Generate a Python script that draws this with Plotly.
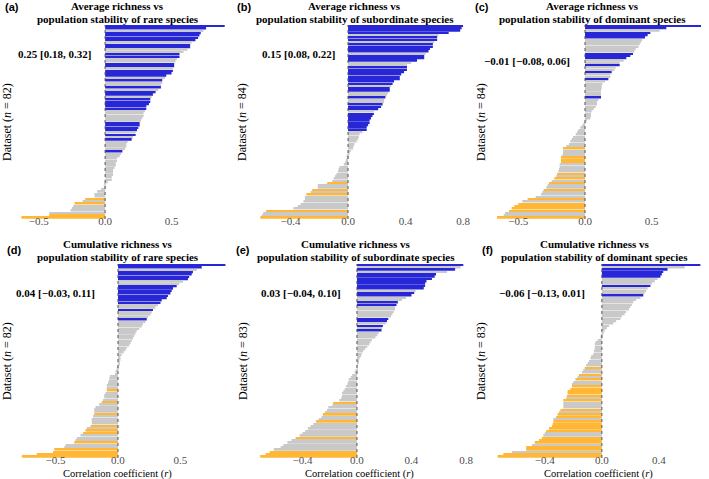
import plotly.graph_objects as go

# ---------------- data ----------------
# sig codes: B = significant positive, G = not significant, O = significant negative
a_vals = [0.90, 0.76, 0.74, 0.72, 0.71, 0.70, 0.68, 0.65, 0.64, 0.64,
          0.62, 0.59, 0.56, 0.56, 0.54, 0.53, 0.52, 0.52, 0.51, 0.51,
          0.50, 0.46, 0.45, 0.43, 0.43, 0.42, 0.42, 0.40, 0.38, 0.36,
          0.35, 0.34, 0.34, 0.33, 0.31, 0.31, 0.30, 0.29, 0.29, 0.28,
          0.27, 0.26, 0.26, 0.25, 0.24, 0.23, 0.23, 0.21, 0.20, 0.17,
          0.16, 0.16, 0.15, 0.13, 0.12, 0.11, 0.09, 0.09, 0.08, 0.08,
          0.07, 0.06, 0.06, 0.06, 0.05, 0.05, 0.02, -0.005, -0.01, -0.03,
          -0.06, -0.08, -0.08, -0.15, -0.17, -0.23, -0.24, -0.25, -0.26, -0.42,
          -0.42, -0.63]
a_sig = ("BBGBBBBGBB" "GGBBGGBBGB" "BBGBGGBGBB" "GBBBBBGGGG" "GBBBBGBGBG"
         "GGGBGGGGGG" "GGGGGGGGGG" "GGGOGOGGGG" "OO")

b_vals = [0.80, 0.79, 0.78, 0.70, 0.63, 0.62, 0.62, 0.60, 0.59, 0.59,
          0.57, 0.56, 0.54, 0.53, 0.53, 0.48, 0.44, 0.41, 0.41, 0.41,
          0.39, 0.37, 0.36, 0.36, 0.32, 0.31, 0.30, 0.29, 0.29, 0.28,
          0.27, 0.26, 0.25, 0.25, 0.24, 0.23, 0.21, 0.18, 0.18, 0.17,
          0.16, 0.15, 0.15, 0.14, 0.13, 0.13, 0.10, 0.08, 0.075, 0.07,
          0.06, 0.045, 0.04, 0.035, 0.02, 0.01, -0.005, -0.01, -0.015, -0.02,
          -0.03, -0.06, -0.065, -0.07, -0.08, -0.09, -0.10, -0.11, -0.145, -0.21,
          -0.21, -0.25, -0.26, -0.29, -0.30, -0.30, -0.31, -0.33, -0.35, -0.38,
          -0.57, -0.59, -0.60, -0.61]
b_sig = ("BBBBGBBGBB" "BBGBBBGGBB" "BBBBBBGBBG" "GBGGBBBGBB" "BBBBBBGGGG"
         "GGGGGGGGGG" "GGGGGGGGOG" "GOGOGGGGGG" "OGGO")

c_vals = [0.87, 0.61, 0.56, 0.49, 0.47, 0.45, 0.43, 0.42, 0.41, 0.40,
          0.38, 0.37, 0.36, 0.34, 0.31, 0.29, 0.26, 0.26, 0.23, 0.22,
          0.20, 0.19, 0.19, 0.175, 0.15, 0.13, 0.125, 0.125, 0.12, 0.12,
          0.12, 0.12, 0.10, 0.09, 0.09, 0.08, 0.065, 0.05, 0.045, 0.045,
          0.04, 0.007, -0.01, -0.02, -0.035, -0.05, -0.06, -0.07, -0.09, -0.10,
          -0.11, -0.12, -0.14, -0.165, -0.165, -0.165, -0.17, -0.18, -0.18, -0.18,
          -0.19, -0.19, -0.195, -0.20, -0.21, -0.215, -0.23, -0.25, -0.27, -0.28,
          -0.29, -0.31, -0.32, -0.33, -0.37, -0.43, -0.47, -0.50, -0.53, -0.55,
          -0.57, -0.60, -0.61, -0.66]
c_sig = ("BBGBBBGGGG" "GGBBBGGBGG" "BGGBGGGGGG" "GBGGGGGGGG" "GGGGGGGGGG"
         "GGGOGGGOOO" "GGGGOGOGOG" "GOGGGOGOOO" "OGGO")

d_vals = [0.86, 0.67, 0.63, 0.60, 0.59, 0.57, 0.56, 0.52, 0.49, 0.47,
          0.44, 0.43, 0.42, 0.40, 0.39, 0.35, 0.34, 0.32, 0.30, 0.28,
          0.27, 0.26, 0.24, 0.23, 0.22, 0.20, 0.19, 0.17, 0.15, 0.14,
          0.13, 0.12, 0.11, 0.10, 0.09, 0.07, 0.06, 0.045, 0.03, 0.02,
          0.02, 0.015, 0.01, -0.005, -0.01, -0.02, -0.025, -0.065, -0.07, -0.075,
          -0.08, -0.09, -0.09, -0.09, -0.10, -0.11, -0.11, -0.12, -0.13, -0.15,
          -0.18, -0.19, -0.19, -0.19, -0.20, -0.21, -0.21, -0.21, -0.22, -0.25,
          -0.26, -0.28, -0.30, -0.33, -0.34, -0.35, -0.42, -0.43, -0.51, -0.52,
          -0.65, -0.77]
d_sig = ("BBGBBBBGGB" "BBBBBBBGGB" "GGGBGGGGGG" "GGGGGGGGGG" "GGGGGGGGGG"
         "GGGOGGGGOG" "GGGOGGGGOG" "OOGGGOGGOO" "OO")

e_vals = [0.78, 0.76, 0.72, 0.66, 0.58, 0.57, 0.55, 0.51, 0.50, 0.50,
          0.49, 0.43, 0.42, 0.40, 0.36, 0.33, 0.30, 0.29, 0.28, 0.28,
          0.27, 0.26, 0.25, 0.23, 0.22, 0.21, 0.19, 0.185, 0.18, 0.16,
          0.15, 0.135, 0.11, 0.10, 0.09, 0.075, 0.06, 0.045, 0.035, 0.03,
          0.02, 0.015, 0.012, 0.005, 0.002, -0.01, -0.017, -0.035, -0.045, -0.06,
          -0.065, -0.07, -0.08, -0.09, -0.10, -0.11, -0.11, -0.115, -0.13, -0.175,
          -0.18, -0.21, -0.22, -0.235, -0.25, -0.26, -0.28, -0.30, -0.32, -0.34,
          -0.36, -0.38, -0.40, -0.42, -0.45, -0.48, -0.51, -0.54, -0.56, -0.61,
          -0.64, -0.67, -0.71]
e_sig = ("BGBGBBBBBB" "BGBBGGBBGG" "GGGBBGBGBG" "GGGGGGGGGG" "GGGGGGGGGG"
         "GGGGGGGGGO" "GGGGOGGOGG" "GGGGOGGGGG" "OOO")

f_vals = [0.69, 0.58, 0.46, 0.43, 0.42, 0.41, 0.39, 0.37, 0.35, 0.34,
          0.32, 0.31, 0.30, 0.29, 0.27, 0.24, 0.22, 0.21, 0.20, 0.19,
          0.17, 0.16, 0.14, 0.13, 0.10, 0.08, 0.05, 0.035, 0.02, 0.01,
          -0.005, -0.01, -0.03, -0.045, -0.05, -0.05, -0.05, -0.055, -0.06, -0.075,
          -0.08, -0.09, -0.10, -0.11, -0.12, -0.13, -0.14, -0.16, -0.17, -0.185,
          -0.20, -0.21, -0.21, -0.22, -0.24, -0.24, -0.245, -0.25, -0.27, -0.27,
          -0.27, -0.27, -0.29, -0.30, -0.31, -0.32, -0.34, -0.34, -0.345, -0.35,
          -0.37, -0.39, -0.40, -0.41, -0.42, -0.44, -0.47, -0.49, -0.53, -0.53,
          -0.63, -0.69, -0.73]
f_sig = ("BGBBBBGGGB" "GGGBGGGGGG" "GGGGGGGGGG" "GGGGGGGGGG" "GGGGOGGOGO"
         "GGOOOOOGOG" "GGOGOOGOOO" "OOGGOOOGOO" "GOO")

letters = ["(a)", "(b)", "(c)", "(d)", "(e)", "(f)"]
title_line1 = ["Average richness vs"] * 3 + ["Cumulative richness vs"] * 3
title_line2 = ["population stability of rare species",
               "population stability of subordinate species",
               "population stability of dominant species"] * 2
summaries = ["0.25 [0.18, 0.32]", "0.15 [0.08, 0.22]", "\u22120.01 [\u22120.08, 0.06]",
             "0.04 [\u22120.03, 0.11]", "0.03 [\u22120.04, 0.10]", "\u22120.06 [\u22120.13, 0.01]"]
tick_sets = [[-0.5, 0.0, 0.5], [-0.4, 0.0, 0.4, 0.8], [-0.5, 0.0, 0.5],
             [-0.5, 0.0, 0.5], [-0.4, 0.0, 0.4, 0.8], [-0.4, 0.0, 0.4]]
all_vals = [a_vals, b_vals, c_vals, d_vals, e_vals, f_vals]
all_sigs = [a_sig, b_sig, c_sig, d_sig, e_sig, f_sig]

# ---------------- styling / geometry ----------------
W, H = 709, 479
SERIF = "Liberation Serif"
SANS = "Liberation Sans"
COLORS = {"B": "#2727d8", "G": "#c9c9c9", "O": "#ffb735"}

# per panel: left px, right px, zero px, px per unit, top px, bottom px
geo = [(20, 229, 106, 134, 25, 219), (258, 470, 351, 145, 25, 219), (499, 708, 590, 134.5, 25, 219),
       (20, 229, 119, 126, 264, 458), (258, 471, 360, 137.5, 264, 458), (499, 708, 607, 144, 264, 458)]
title_cx = [119, 358, 598, 119, 359, 600]
title_y = [(6, 18.5), (6, 18.5), (6, 18.5), (243.5, 256.5), (243.5, 256.5), (243.5, 256.5)]
summary_pos = [(94, 54), (340, 54), (577, 61), (98, 293), (346, 293), (592, 293)]
letter_pos = [(3, 7), (237, 7), (477, 7), (5, 250), (236, 250), (484, 250)]
ytitle_x = [7, 244, 485, 7, 245, 485]
xtitle_cx = [None, None, None, 118, 363, 604]

fig = go.Figure()
layout = dict(width=W, height=H, margin=dict(l=0, r=0, t=0, b=0),
              paper_bgcolor="white", plot_bgcolor="white", bargap=0.25,
              showlegend=False, annotations=[], shapes=[])


def px(x):
    return x / W


def py(y):
    return 1 - y / H


for k in range(6):
    vals, sig = all_vals[k], all_sigs[k]
    n = len(vals)
    sfx = "" if k == 0 else str(k + 1)
    L, R, x0, s, top, bot = geo[k]
    fig.add_trace(go.Bar(x=vals, y=list(range(n)), orientation="h",
                         marker=dict(color=[COLORS[c] for c in sig], line=dict(width=0)),
                         xaxis="x" + sfx, yaxis="y" + sfx, hoverinfo="x"))
    layout["xaxis" + sfx] = dict(domain=[px(L), px(R)], range=[(L - x0) / s, (R - x0) / s],
                                 anchor="y" + sfx, tickvals=tick_sets[k], tickformat=".1f",
                                 showgrid=False, zeroline=False, showline=False, ticks="",
                                 ticklabelstandoff=-6,
                                 tickfont=dict(family=SERIF, size=11, color="#4d4d4d"))
    layout["yaxis" + sfx] = dict(domain=[py(bot), py(top)], range=[n - 0.5, -0.5],
                                 anchor="x" + sfx, showticklabels=False, showgrid=False,
                                 zeroline=False, showline=False, ticks="")
    layout["shapes"].append(dict(type="line", xref="x" + sfx, yref="y" + sfx + " domain",
                                 x0=0, x1=0, y0=0, y1=1,
                                 line=dict(color="#555555", width=1, dash="dot")))
    ann = layout["annotations"]
    ann.append(dict(text="<b>" + title_line1[k] + "</b>", x=px(title_cx[k]), y=py(title_y[k][0]),
                    xref="paper", yref="paper", showarrow=False, xanchor="center", yanchor="middle",
                    font=dict(family=SERIF, size=11, color="black")))
    ann.append(dict(text="<b>" + title_line2[k] + "</b>", x=px(title_cx[k]), y=py(title_y[k][1]),
                    xref="paper", yref="paper", showarrow=False, xanchor="center", yanchor="middle",
                    font=dict(family=SERIF, size=11, color="black")))
    ann.append(dict(text="<b>" + summaries[k] + "</b>", x=px(summary_pos[k][0]), y=py(summary_pos[k][1]),
                    xref="paper", yref="paper", showarrow=False, xanchor="right", yanchor="middle",
                    font=dict(family=SERIF, size=11, color="black")))
    ann.append(dict(text="<b>" + letters[k] + "</b>", x=px(letter_pos[k][0]), y=py(letter_pos[k][1]),
                    xref="paper", yref="paper", showarrow=False, xanchor="left", yanchor="middle",
                    font=dict(family=SANS, size=11, color="black")))
    ann.append(dict(text="Dataset (<i>n</i> = %d)" % n, x=px(ytitle_x[k]), y=py((top + bot) / 2),
                    xref="paper", yref="paper", showarrow=False, xanchor="center", yanchor="middle",
                    textangle=-90, font=dict(family=SERIF, size=12, color="black")))
    if k >= 3:
        ann.append(dict(text="Correlation coefficient (<i>r</i>)", x=px(xtitle_cx[k]), y=py(474),
                        xref="paper", yref="paper", showarrow=False, xanchor="center", yanchor="middle",
                        font=dict(family=SERIF, size=10.5, color="black")))

fig.update_layout(**layout)
fig.write_html("out.html")
